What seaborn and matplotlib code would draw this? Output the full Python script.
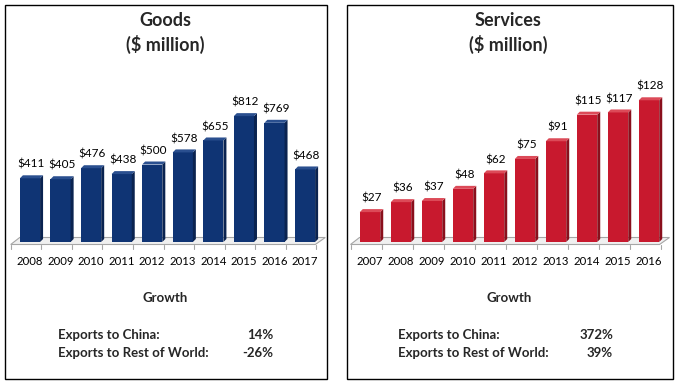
import matplotlib
matplotlib.use("Agg")
import matplotlib.pyplot as plt
import seaborn as sns
import pandas as pd
from matplotlib.patches import Polygon, Rectangle
from matplotlib.transforms import IdentityTransform
from matplotlib.lines import Line2D

# ---- data ----
goods_years = ["2008", "2009", "2010", "2011", "2012", "2013", "2014", "2015", "2016", "2017"]
goods_values = [411, 405, 476, 438, 500, 578, 655, 812, 769, 468]
services_years = ["2007", "2008", "2009", "2010", "2011", "2012", "2013", "2014", "2015", "2016"]
services_values = [27, 36, 37, 48, 62, 75, 91, 115, 117, 128]
growth_labels = ["Exports to China:", "Exports to Rest of World:"]
goods_growth = ["14%", "-26%"]
services_growth = ["372%", "39%"]
titles = ["Goods\n($ million)", "Services\n($ million)"]

W, H = 679, 385
DPI = 100
sns.set_theme(style="white")
plt.rcParams['font.family'] = ['Lato', 'DejaVu Sans']

fig = plt.figure(figsize=(W / DPI, H / DPI), dpi=DPI)
fig.patch.set_facecolor("white")


def fx(x):
    return x / W


def fy(y):
    return 1 - y / H


def px_axes(l, t, r, b):
    return fig.add_axes([fx(l), fy(b), (r - l) / W, (b - t) / H])


# panel borders
for (l, t, r, b) in [(5, 5, 327, 379), (347, 5, 673, 379)]:
    fig.patches.append(Rectangle((fx(l), fy(b)), (r - l) / W, (b - t) / H,
                                 transform=fig.transFigure, fill=False,
                                 edgecolor="black", linewidth=1.0))


def panel(ax, years, values, ymax, face, side, top):
    df = pd.DataFrame({"year": years, "value": values})
    sns.barplot(data=df, x="year", y="value", color=face, saturation=1,
                width=0.66, linewidth=0, ax=ax, zorder=2)
    ax.set_ylim(0, ymax)
    ax.set_xlim(-0.5, len(years) - 0.5)
    ax.set_facecolor("none")
    ax.set_yticks([])
    ax.set_xlabel("")
    ax.set_ylabel("")
    for s in ax.spines.values():
        s.set_visible(False)
    ax.tick_params(axis="x", length=0, pad=10, labelsize=8.2, colors="black")

    tr = ax.transData
    ident = IdentityTransform()
    dx, dy = 3.0, 3.0
    # floor
    x0, base = tr.transform((-0.5, 0))
    x1, _ = tr.transform((len(years) - 0.5, 0))
    ff = base - 2.5   # front edge (display y, up is positive)
    fb = base + 4.5   # back edge
    floor = Polygon([(x0 - 4, ff), (x1 - 5, ff), (x1 + 5, fb), (x0 + 5, fb)],
                    closed=True, transform=ident, facecolor="#f0f0f0",
                    edgecolor="#a6a6a6", linewidth=0.8, zorder=0.5, clip_on=False)
    ax.add_patch(floor)
    for i in range(len(years) + 1):
        bx, _ = tr.transform((i - 0.5, 0))
        ax.add_line(Line2D([bx - 4, bx - 4], [ff, ff - 4], transform=ident,
                           color="#a6a6a6", linewidth=0.8, clip_on=False))

    for p, v in zip(list(ax.patches)[:len(values)], values):
        xl, yb = tr.transform((p.get_x(), 0))
        xr, yt = tr.transform((p.get_x() + p.get_width(), p.get_height()))
        ax.add_patch(Polygon([(xr, yb), (xr + dx, yb + dy), (xr + dx, yt + dy), (xr, yt)],
                             closed=True, transform=ident, facecolor=side,
                             linewidth=0, zorder=2.1, clip_on=False))
        ax.add_patch(Polygon([(xl, yt), (xr, yt), (xr + dx, yt + dy), (xl + dx, yt + dy)],
                             closed=True, transform=ident, facecolor=top,
                             linewidth=0, zorder=2.1, clip_on=False))
        ax.annotate(f"${v}", (p.get_x() + p.get_width() / 2, p.get_height()),
                    xytext=(1, 6), textcoords="offset points", ha="center",
                    va="bottom", fontsize=8.5, color="black")


ax1 = px_axes(14.7, 87, 320.3, 242)
panel(ax1, goods_years, goods_values, 1000, "#0f3474", "#0a2350", "#2a4f8f")
ax2 = px_axes(354.5, 87, 664.5, 242)
panel(ax2, services_years, services_values, 140, "#c8192e", "#8a0f1c", "#dc4a58")

# titles
for cx, t in [(165, titles[0]), (508, titles[1])]:
    fig.text(fx(cx), fy(33), t, ha="center", va="center", fontsize=13,
             fontweight="bold", linespacing=1.35)

# growth text
for (cx, lx, rx, vals) in [(165, 58, 273, goods_growth), (509, 398, 613, services_growth)]:
    fig.text(fx(cx), fy(298), "Growth", ha="center", va="center",
             fontsize=9.5, fontweight="bold")
    for yy, lab, val in zip([335, 353], growth_labels, vals):
        fig.text(fx(lx), fy(yy), lab, ha="left", va="center", fontsize=9.5,
                 fontweight="bold")
        fig.text(fx(rx), fy(yy), val, ha="right", va="center", fontsize=9.5,
                 fontweight="bold")

fig.savefig("out.png", dpi=DPI, facecolor="white")
